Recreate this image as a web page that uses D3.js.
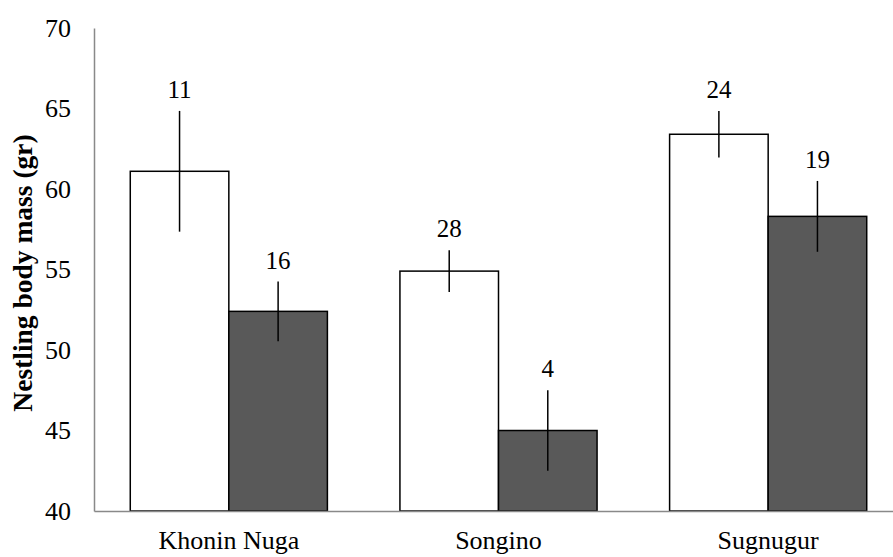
<!DOCTYPE html>
<html>
<head>
<meta charset="utf-8">
<script src="https://cdn.jsdelivr.net/npm/d3@7"></script>
<style>
html,body{margin:0;padding:0;background:#fff;}
svg{display:block;}
</style>
</head>
<body>
<svg id="chart" width="893" height="557" font-family="'Liberation Serif', 'Times New Roman', serif"></svg>
<script>
const categories = ["Khonin Nuga", "Songino", "Sugnugur"];
const series = ["group1", "group2"];
const means1 = [61.1, 54.9, 63.4];
const means2 = [52.4, 45.0, 58.3];
const err1 = [3.75, 1.3, 1.45];
const err2 = [1.85, 2.5, 2.2];
const nLabels1 = ["11", "28", "24"];
const nLabels2 = ["16", "4", "19"];
const yTicks = [40, 45, 50, 55, 60, 65, 70];
const colors = ["#ffffff", "#595959"];

const FONT = "'Liberation Serif', 'Times New Roman', serif";
const svg = d3.select("#chart");
const mLeft = 94, mRight = 903, mTop = 28, mBottom = 511;

const x0 = d3.scaleBand().domain(categories).range([mLeft, mRight])
  .paddingInner(0.269).paddingOuter(0.1345);
const x1 = d3.scaleBand().domain(series).range([0, x0.bandwidth()]);
const y = d3.scaleLinear().domain([40, 70]).range([mBottom, mTop]);

const data = categories.map((c, i) => ({
  cat: c,
  bars: [
    {s: "group1", v: means1[i], e: err1[i], n: nLabels1[i], fill: colors[0]},
    {s: "group2", v: means2[i], e: err2[i], n: nLabels2[i], fill: colors[1]}
  ]
}));

// bars
const g = svg.selectAll("g.cat").data(data).enter().append("g")
  .attr("class", "cat")
  .attr("transform", d => `translate(${x0(d.cat)},0)`);

g.selectAll("rect").data(d => d.bars).enter().append("rect")
  .attr("x", d => x1(d.s))
  .attr("width", x1.bandwidth())
  .attr("y", d => y(d.v))
  .attr("height", d => y(40) - y(d.v))
  .attr("fill", d => d.fill)
  .attr("stroke", "#000")
  .attr("stroke-width", 1.5);

// error bars
g.selectAll("line.err").data(d => d.bars).enter().append("line")
  .attr("class", "err")
  .attr("x1", d => x1(d.s) + x1.bandwidth() / 2)
  .attr("x2", d => x1(d.s) + x1.bandwidth() / 2)
  .attr("y1", d => y(d.v + d.e))
  .attr("y2", d => y(d.v - d.e))
  .attr("stroke", "#000")
  .attr("stroke-width", 1.5);

// n labels
g.selectAll("text.n").data(d => d.bars).enter().append("text")
  .attr("class", "n")
  .attr("x", d => x1(d.s) + x1.bandwidth() / 2)
  .attr("y", d => y(d.v + d.e) - 13)
  .attr("text-anchor", "middle")
  .attr("font-family", FONT)
  .attr("font-size", 25)
  .attr("fill", "#000")
  .text(d => d.n);

// y axis
const yAxis = d3.axisLeft(y).tickValues(yTicks).tickSize(0).tickPadding(23);
const ya = svg.append("g").attr("transform", `translate(${mLeft},0)`).call(yAxis);
ya.attr("font-family", FONT).attr("font-size", 26);
ya.select(".domain").attr("stroke", "#898989").attr("stroke-width", 1.5);
ya.selectAll("text").attr("fill", "#000");

// x axis
const xAxis = d3.axisBottom(x0).tickSize(0).tickPadding(20);
const xa = svg.append("g").attr("transform", `translate(0,${mBottom})`).call(xAxis);
xa.attr("font-family", FONT).attr("font-size", 26);
xa.select(".domain").attr("stroke", "#898989").attr("stroke-width", 1.5);
xa.selectAll("text").attr("fill", "#000");

// y title
svg.append("text")
  .attr("transform", `translate(32,273) rotate(-90)`)
  .attr("text-anchor", "middle")
  .attr("font-family", FONT)
  .attr("font-size", 27.5)
  .attr("font-weight", "bold")
  .attr("fill", "#000")
  .text("Nestling body mass (gr)");
</script>
</body>
</html>
